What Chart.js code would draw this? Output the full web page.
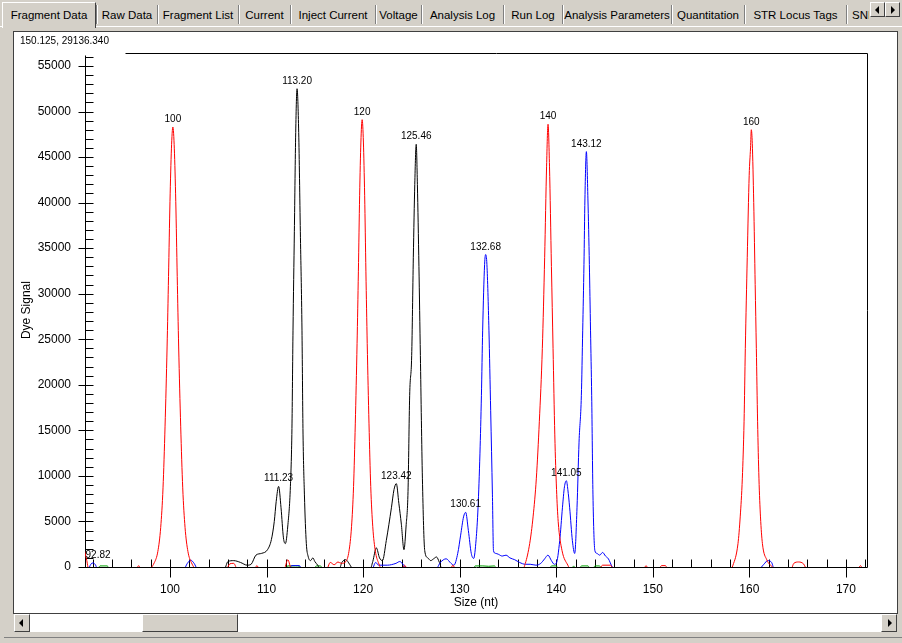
<!DOCTYPE html>
<html>
<head>
<meta charset="utf-8">
<script src="https://cdn.jsdelivr.net/npm/chart.js@4.4.1/dist/chart.umd.min.js"></script>
<style>
  body { margin:0; width:902px; height:643px; background:#d4d0c8; position:relative; overflow:hidden;
         font-family:"Liberation Sans", Arial, sans-serif; }
  .tab { position:absolute; top:5px; height:20px; line-height:20px; font-size:11.5px; text-align:center;
         white-space:nowrap; overflow:hidden; color:#000; }
  .sep { position:absolute; top:5px; height:19px; width:1px; background:#808080; box-shadow:1px 0 0 #fff; }
  #sel { position:absolute; left:2px; top:2px; width:92px; height:25px; background:#d4d0c8;
         border-left:1px solid #fff; border-top:1px solid #fff; border-right:1px solid #404040; }
  #bodyline { position:absolute; left:0; top:26px; width:902px; height:1px; background:#fff; }
  #panel { position:absolute; left:13px; top:31px; width:883px; height:581px; background:#fff;
           border:1px solid #404040; }
  #coord { position:absolute; left:20px; top:35px; font-size:10px; line-height:11px; color:#000; }
  #chart { position:absolute; left:14px; top:32px; }
  .btn { position:absolute; background:#d4d0c8; box-sizing:border-box;
         border:1px solid; border-color:#fff #404040 #404040 #fff; }
  .tri { position:absolute; width:0; height:0; border-top:4px solid transparent; border-bottom:4px solid transparent; }
  #track { position:absolute; left:14px; top:614px; width:883px; height:18px; background:#fff; }
</style>
</head>
<body>
<div id="bodyline"></div>
<div id="sel"></div>
<div class="tab" style="left:3px;width:92px">Fragment Data</div>
<div class="sep" style="left:96px"></div>
<div class="tab" style="left:97px;width:60px">Raw Data</div>
<div class="sep" style="left:157px"></div>
<div class="tab" style="left:158px;width:80px">Fragment List</div>
<div class="sep" style="left:238px"></div>
<div class="tab" style="left:239px;width:51px">Current</div>
<div class="sep" style="left:290px"></div>
<div class="tab" style="left:291px;width:84px">Inject Current</div>
<div class="sep" style="left:375px"></div>
<div class="tab" style="left:376px;width:45px">Voltage</div>
<div class="sep" style="left:421px"></div>
<div class="tab" style="left:422px;width:81px">Analysis Log</div>
<div class="sep" style="left:503px"></div>
<div class="tab" style="left:504px;width:58px">Run Log</div>
<div class="sep" style="left:562px"></div>
<div class="tab" style="left:563px;width:108px">Analysis Parameters</div>
<div class="sep" style="left:671px"></div>
<div class="tab" style="left:672px;width:72px">Quantitation</div>
<div class="sep" style="left:744px"></div>
<div class="tab" style="left:745px;width:101px">STR Locus Tags</div>
<div class="sep" style="left:846px"></div>
<div class="tab" style="left:852px;width:17px;text-align:left">SNP</div>
<div class="btn" style="left:870px;top:2px;width:15px;height:15px"><div class="tri" style="left:4px;top:3px;border-right:4px solid #000"></div></div>
<div class="btn" style="left:885px;top:2px;width:15px;height:15px"><div class="tri" style="left:5px;top:3px;border-left:4px solid #000"></div></div>

<div id="panel"></div>
<canvas id="chart" width="883" height="581"></canvas>
<div id="coord">150.125, 29136.340</div>

<div id="track"></div>
<div class="btn" style="left:14px;top:614px;width:16px;height:18px"><div class="tri" style="left:4px;top:4px;border-right:4px solid #000"></div></div>
<div class="btn" style="left:142px;top:614px;width:96px;height:18px"></div>
<div class="btn" style="left:881px;top:614px;width:16px;height:18px"><div class="tri" style="left:6px;top:4px;border-left:4px solid #000"></div></div>
<div style="position:absolute;left:4px;top:637px;width:898px;height:1px;background:#808080"></div>

<script>
// size range and signal range of the view
const xMin = 91.2, xMax = 172.18;
const yMax = 56400;
const xTicks = [100, 110, 120, 130, 140, 150, 160, 170];
const yTicks = [0, 5000, 10000, 15000, 20000, 25000, 30000, 35000, 40000, 45000, 50000, 55000];

// red dye (size standard)
const redX = [91.06, 91.35, 91.6, 96.5, 96.75, 97.0, 97.7,
  98.38, 98.74, 99.04, 99.28, 99.49, 99.7, 99.85, 100.0, 100.15, 100.3, 100.45, 100.6, 100.75, 100.9, 101.11, 101.32, 101.56, 101.86, 102.22,
  102.8, 105.8, 106.2, 106.6, 107.0, 108.7, 109.0, 109.3, 111.8, 112.2, 112.6, 116.2, 116.6, 117.0, 117.4, 117.75,
  118.22, 118.535, 118.8, 119.01, 119.19, 119.375, 119.51, 119.64, 119.77, 119.9, 120.03, 120.16, 120.29, 120.425, 120.61, 120.79, 121.0, 121.27, 121.58,
  122.0, 124.0, 124.3, 124.6, 129.0, 129.3, 129.6,
  136.5, 136.8, 137.25, 137.6, 137.94, 138.25, 138.56, 138.8, 139.0, 139.15, 139.3, 139.5, 139.67, 139.85, 140.03, 140.2, 140.6, 141.2, 141.5,
  144.4, 144.8, 145.6, 146.0, 149.0, 149.3, 149.6, 150.6, 150.9, 151.3, 151.6,
  158.0, 158.3, 158.82, 159.05, 159.27, 159.45, 159.58, 159.78, 159.98, 160.12, 160.2, 160.3, 160.45, 160.6, 160.72, 160.85, 160.99, 161.15, 161.35, 161.8, 162.4, 162.7,
  164.3, 164.6, 165.1, 165.6, 166.0, 171.2, 171.5, 171.8, 172.14];
const redY = [2200, 900, -300, -300, 150, -300, -300,
  480, 1690, 4350, 8690, 15460, 24150, 31900, 40100, 45900, 48300, 45900, 40100, 31900, 24150, 15460, 8690, 4350, 1690, 480,
  -300, -300, 350, 400, -300, -300, 150, -300, -300, 800, -300, -300, 500, 250, 550, 400,
  600, 1720, 4420, 8840, 15710, 24550, 32400, 40750, 46650, 49100, 46650, 40750, 32400, 24550, 15710, 8840, 4420, 1720, 490,
  -300, -300, 200, -300, -300, 200, -300,
  -300, 400, 2570, 5500, 9750, 16000, 24000, 34000, 44000, 48600, 44000, 33000, 24000, 14500, 8500, 5000, 1800, 200, -300,
  -300, 200, 200, -300, -300, 150, -300, -300, 150, 150, -300,
  -300, 200, 2570, 5500, 9750, 16000, 24000, 34000, 43000, 46000, 48000, 46500, 40000, 31000, 24000, 16000, 9750, 5500, 2570, 800, 0, -300,
  -300, 400, 550, 350, -300, -300, 150, -300, -300];

// black dye
const blackX = [91.06, 105.6,
  106.0, 106.6, 107.3, 108.0, 108.4, 108.9, 109.5, 110.1, 110.5, 110.8, 111.0, 111.25, 111.5, 111.75, 111.95,
  112.2, 112.47, 112.63, 112.74, 112.88, 113.02, 113.16, 113.33, 113.5, 113.67, 113.77, 113.92, 114.12,
  114.3, 114.55, 114.8, 115.0, 115.3, 115.6, 117.5, 117.8, 118.2, 118.6, 119.0,
  120.7, 121.0, 121.37, 121.7, 122.0, 122.4, 122.93, 123.2, 123.44, 123.7, 123.96, 124.23,
  124.45, 124.65, 124.82, 125.03, 125.2, 125.35, 125.5, 125.62, 125.78, 125.93, 126.14, 126.38,
  126.7, 127.0, 127.3, 127.6, 127.9, 128.2, 172.14];
const blackY = [-300, -300,
  600, 700, 500, 200, 300, 1300, 1500, 1900, 3000, 5000, 7200, 8850, 6500, 3200, 2570,
  4500, 8850, 15200, 26000, 36800, 47700, 52500, 47700, 36800, 26000, 15200, 8000, 2570,
  1200, 700, 1000, 600, 200, -300, -300, 500, 800, 300, -300,
  -300, 600, 2100, 1000, 700, 2900, 6500, 8500, 9150, 7000, 4700, 1900,
  4500, 8300, 18800, 23200, 34000, 42000, 46400, 42000, 33000, 23200, 9750, 1800,
  1000, 700, 900, 1100, 500, -300, -300];

// blue dye
const blueX = [91.06, 91.5, 91.8, 92.03, 92.3, 92.5, 101.4, 101.8, 102.15, 102.5, 102.9,
  112.3, 112.6, 113.4, 113.7, 120.9, 121.3, 121.6, 122.5, 123.4, 123.8, 124.2, 124.6,
  127.5, 128.0, 128.6, 129.1, 129.4, 129.8, 130.1, 130.4, 130.62, 130.9, 131.2, 131.45,
  131.7, 131.9, 132.1, 132.25, 132.38, 132.58, 132.69, 132.82, 133.03, 133.21, 133.39, 133.5,
  133.7, 134.0, 134.4, 134.8, 135.2, 135.7, 136.2, 136.8, 137.3, 137.9, 138.4, 138.8, 139.14, 139.5, 139.8, 140.0,
  140.36, 140.64, 140.85, 141.05, 141.2, 141.39, 141.67, 141.91,
  142.15, 142.36, 142.6, 142.74, 142.87, 142.97, 143.12, 143.28, 143.43, 143.55, 143.67, 143.8, 144.0,
  144.2, 144.5, 144.8, 145.1, 145.4, 145.8, 146.1, 160.9, 161.5, 161.9, 162.3, 162.6, 172.14];
const blueY = [-300, -300, 300, 450, 200, -300, -300, 400, 750, 400, -300,
  -300, 150, 150, -300, -300, 500, 200, 200, 400, 600, 200, -300,
  -300, 500, 900, 400, 200, 1500, 3500, 5500, 6000, 4000, 1500, 940,
  3000, 6500, 12500, 18800, 26000, 33200, 34300, 33200, 26000, 17150, 8000, 1800,
  1500, 1400, 1200, 1300, 1000, 800, 500, 300, 300, 200, 400, 900, 1300, 700, 300, 400,
  2900, 6500, 8800, 9470, 8500, 6500, 2900, 1480,
  6500, 13700, 18800, 26000, 33200, 40400, 45600, 40400, 33200, 26000, 18800, 8000, 1800,
  1500, 1300, 1600, 1200, 900, 0, -300, -300, 300, 700, 500, -300, -300];

// green dye (baseline only)
const greenX = [91.06, 92.5, 92.75, 93.5, 93.8, 111.9, 112.2, 113.0, 113.4, 113.7, 114.9, 115.15, 115.6, 115.8,
  131.4, 131.6, 132.4, 133.0, 133.6, 133.9, 139.3, 139.5, 140.0, 140.2, 141.6, 141.8, 142.0,
  142.4, 142.6, 143.3, 143.5, 143.8, 144.0, 144.5, 144.7, 172.14];
const greenY = [-300, -300, 120, 120, -300, -300, 120, 120, 80, -300, -300, 120, 120, -300,
  -300, 120, 120, 80, 120, -300, -300, 120, 120, -300, -300, 120, -300,
  -300, 120, 120, -300, -300, 120, 120, -300, -300];

// called peaks
const peakText = ['92.82', '100', '111.23', '113.20', '120', '123.42', '125.46', '130.61', '132.68', '140', '141.05', '143.12', '160'];
const peakX = [92.55, 100.3, 111.25, 113.16, 119.9, 123.44, 125.5, 130.62, 132.69, 139.15, 141.05, 143.12, 160.2];
const peakY = [450, 48300, 8850, 52500, 49100, 9150, 46400, 6000, 34300, 48600, 9470, 45600, 48000];

const font = '"Liberation Sans", Arial, sans-serif';
Chart.defaults.font.family = font;

function pts(xs, ys) {
  return xs.map((x, i) => ({x: x, y: ys[i]}));
}

// axis lines, tick marks and the frame of the trace window
const axes = {
  id: 'axes',
  beforeDatasetsDraw(chart) {
    const {ctx, chartArea: a, scales} = chart;
    const sx = scales.x, sy = scales.y;
    const L = Math.round(a.left) + 0.5, R = Math.round(a.right) + 0.5;
    const T = Math.round(a.top) + 0.5, B = Math.round(a.bottom) + 0.5;
    ctx.save();
    ctx.strokeStyle = '#000';
    ctx.lineWidth = 1;
    ctx.beginPath();
    ctx.moveTo(L + 40, T); ctx.lineTo(R, T); ctx.lineTo(R, B);
    ctx.moveTo(L, T + 2); ctx.lineTo(L, B); ctx.lineTo(R, B);
    for (let v = 0; v <= sy.max; v += 1000) {
      const p = Math.round(sy.getPixelForValue(v)) + 0.5;
      if (v % 5000 === 0) { ctx.moveTo(L - 7, p); ctx.lineTo(L + 8, p); }
      else { ctx.moveTo(L, p); ctx.lineTo(L + 8, p); }
    }
    for (let v = Math.ceil(sx.min / 2) * 2; v <= sx.max; v += 2) {
      const p = Math.round(sx.getPixelForValue(v)) + 0.5;
      if (v % 10 === 0) { ctx.moveTo(p, B - 8); ctx.lineTo(p, B + 10); }
      else { ctx.moveTo(p, B - 8); ctx.lineTo(p, B); }
    }
    ctx.stroke();
    ctx.restore();
  },
  afterDatasetsDraw(chart) {
    const {ctx, scales} = chart;
    ctx.save();
    ctx.font = '10px ' + font;
    ctx.fillStyle = '#000';
    ctx.textAlign = 'center';
    ctx.textBaseline = 'alphabetic';
    peakText.forEach((t, i) => {
      ctx.fillText(t, scales.x.getPixelForValue(peakX[i]), scales.y.getPixelForValue(peakY[i]) - 5);
    });
    ctx.restore();
  }
};

function trace(xs, ys, color) {
  return {
    data: pts(xs, ys),
    borderColor: color,
    borderWidth: 1,
    pointRadius: 0,
    cubicInterpolationMode: 'monotone',
    fill: false
  };
}

new Chart(document.getElementById('chart'), {
  type: 'line',
  data: {
    datasets: [
      trace(redX, redY, '#ff0000'),
      trace(blueX, blueY, '#0000ff'),
      trace(blackX, blackY, '#000000'),
      trace(greenX, greenY, '#00a000')
    ]
  },
  options: {
    responsive: false,
    animation: false,
    events: [],
    layout: { padding: { left: 0, top: 14, right: 30, bottom: 0 } },
    plugins: { legend: { display: false }, tooltip: { enabled: false } },
    scales: {
      x: {
        type: 'linear', min: xMin, max: xMax,
        afterBuildTicks(s) { s.ticks = xTicks.map(v => ({value: v})); },
        afterFit(s) { s.height = 46; },
        grid: { display: false, drawTicks: false },
        border: { display: false },
        ticks: { padding: 15, color: '#000', font: { size: 12 }, maxRotation: 0, autoSkip: false,
                 callback: v => String(v) },
        title: { display: true, text: 'Size (nt)', color: '#000', font: { size: 12 }, padding: { top: 0, bottom: 3 } }
      },
      y: {
        type: 'linear', min: 0, max: yMax,
        afterBuildTicks(s) { s.ticks = yTicks.map(v => ({value: v})); },
        afterFit(s) { s.width = 71; },
        grid: { display: false, drawTicks: false },
        border: { display: false },
        ticks: { padding: 14, color: '#000', font: { size: 12 }, autoSkip: false,
                 callback: v => String(v) },
        title: { display: true, text: 'Dye Signal', color: '#000', font: { size: 12 }, padding: { top: 5, bottom: 0 } }
      }
    }
  },
  plugins: [axes]
});
</script>
</body>
</html>
